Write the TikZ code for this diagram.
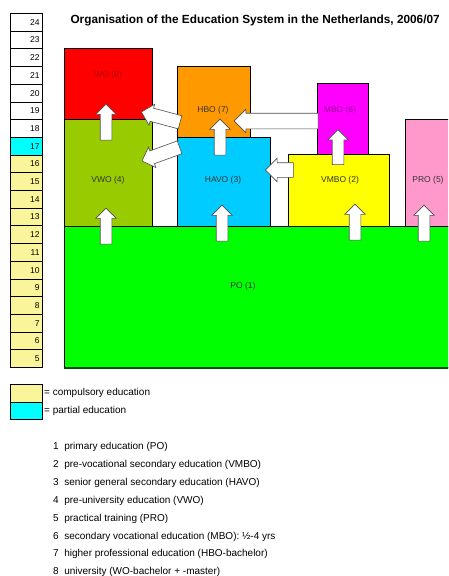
\documentclass[tikz,border=0pt]{standalone}
\usepackage{fontspec}
\setmainfont{Liberation Sans}
\usetikzlibrary{shapes.arrows}
\definecolor{compul}{HTML}{FAF59A}
\definecolor{partial}{HTML}{00FFFF}
\definecolor{wocol}{HTML}{FF0000}
\definecolor{vwocol}{HTML}{99CC00}
\definecolor{hbocol}{HTML}{FF9900}
\definecolor{havocol}{HTML}{00CCFF}
\definecolor{mbocol}{HTML}{FF00FF}
\definecolor{vmbocol}{HTML}{FFFF00}
\definecolor{procol}{HTML}{FF99CC}
\definecolor{pocol}{HTML}{00FF00}

\begin{document}
\begin{tikzpicture}[x = 1pt, y = -1pt, font = \fontsize{8.5}{10}\selectfont,
    agebox/.style = {draw, line width = 1pt, anchor = north west, minimum height = 17.7pt,
        inner xsep = 3pt, inner ysep = 0pt, text width = 26pt, align = right},
    stage/.style = {draw, line width = 1pt, anchor = north west, inner sep = 0pt},
    flow/.style = {single arrow, draw = gray!60!black, fill = white, line width = 0.6pt,
        inner xsep = 0pt, single arrow head indent = 0pt},
    keytext/.style = {anchor = west, inner sep = 1pt, font = \fontsize{10}{12}\selectfont}]
    \clip (0,0) rectangle (448,576);
    \node [anchor = west, font = \bfseries\fontsize{11.8}{14}\selectfont] (title) at (67,20)
        {Organisation of the Education System in the Netherlands, 2006/07};
    % age scale
    \foreach \a in {5,...,16}
        \node [agebox, fill = compul] (age\a) at (10, {367-(\a-4)*17.7}) {\a};
    \node [agebox, fill = partial] (age17) at (10, {367-13*17.7}) {17};
    \foreach \a in {18,...,24}
        \node [agebox, fill = white] (age\a) at (10, {367-(\a-4)*17.7}) {\a};
    % stages
    \node [stage, fill = pocol, minimum width = 400pt, minimum height = 141pt] (po) at (64,226) {};
    \draw [line width = 1.5pt, green!30!black] (po.south west) -- (po.south east);
    \node [stage, fill = vwocol, minimum width = 88pt, minimum height = 107pt] (vwo) at (64,119) {};
    \node [stage, fill = wocol, minimum width = 88pt, minimum height = 71pt] (wo) at (64,48) {};
    \node [stage, fill = havocol, minimum width = 93pt, minimum height = 89pt] (havo) at (177,137) {};
    \node [stage, fill = hbocol, minimum width = 73pt, minimum height = 71pt] (hbo) at (177,66) {};
    \node [stage, fill = vmbocol, minimum width = 101pt, minimum height = 72pt] (vmbo) at (288,154) {};
    \node [stage, fill = mbocol, minimum width = 51pt, minimum height = 71pt] (mbo) at (317,83) {};
    \node [stage, fill = procol, minimum width = 60pt, minimum height = 107pt] (pro) at (405,119) {};
    \node [text = red!70!black] (wolab) at (108,75) {WO (8)};
    \node [text = black!80] (vwolab) at (108,180) {VWO (4)};
    \node [text = black!80] (hbolab) at (213,110) {HBO (7)};
    \node [text = black!80] (havolab) at (223,180) {HAVO (3)};
    \node [text = mbocol!60!black] (mbolab) at (340,110) {MBO (6)};
    \node [text = black!80] (vmbolab) at (340,180) {VMBO (2)};
    \node [text = black!80] (prolab) at (428,180) {PRO (5)};
    \node [text = black!80] (polab) at (243,286) {PO (1)};
    % transitions
    \node [flow, rotate = 90, inner ysep = 5.5pt, single arrow head extend = 4.5pt, minimum height = 36pt] (vwotowo) at (106,125) {};
    \node [flow, rotate = 90, inner ysep = 5.5pt, single arrow head extend = 4.5pt, minimum height = 36pt] (potovwo) at (106,229) {};
    \node [flow, rotate = 90, inner ysep = 5.5pt, single arrow head extend = 4.5pt, minimum height = 36pt] (potohavo) at (222,226) {};
    \node [flow, rotate = 90, inner ysep = 5.5pt, single arrow head extend = 4.5pt, minimum height = 36pt] (potovmbo) at (355,225) {};
    \node [flow, rotate = 90, inner ysep = 5.5pt, single arrow head extend = 4.5pt, minimum height = 36pt] (potopro) at (424,226) {};
    \node [flow, rotate = 90, inner ysep = 5.5pt, single arrow head extend = 4.5pt, minimum height = 36pt] (havotohbo) at (220,140) {};
    \node [flow, rotate = 90, inner ysep = 5.5pt, single arrow head extend = 4.5pt, minimum height = 35pt] (vmbotombo) at (338,150) {};
    \node [flow, rotate = 180, inner ysep = 7.5pt, single arrow head extend = 4pt, minimum height = 84pt] (mbotohbo) at (280,121) {};
    \node [flow, rotate = 180, inner ysep = 7pt, single arrow head extend = 4.5pt, minimum height = 28pt] (vmbotohavo) at (283,170) {};
    \node [flow, rotate = 165, inner ysep = 6.5pt, single arrow head extend = 4pt, minimum height = 40pt] (hbotowo) at (164,118) {};
    \node [flow, rotate = 200, inner ysep = 6.5pt, single arrow head extend = 4pt, minimum height = 40pt] (havotovwo) at (164,153) {};
    % key
    \node [agebox, fill = compul] (keycomp) at (10,384) {};
    \node [agebox, fill = partial] (keypart) at (10,401.7) {};
    \node [keytext] (keycomptext) at (43,392.8) {= compulsory education};
    \node [keytext] (keyparttext) at (43,410.5) {= partial education};
    \foreach \n/\t in {1/primary education (PO),
                       2/pre-vocational secondary education (VMBO),
                       3/senior general secondary education (HAVO),
                       4/pre-university education (VWO),
                       5/practical training (PRO),
                       6/secondary vocational education (MBO): ½-4 yrs,
                       7/higher professional education (HBO-bachelor),
                       8/university (WO-bachelor + -master)}
        \node [keytext] (item\n) at (52, {447+(\n-1)*17.9}) {\n\ \ \t};
\end{tikzpicture}
\end{document}
